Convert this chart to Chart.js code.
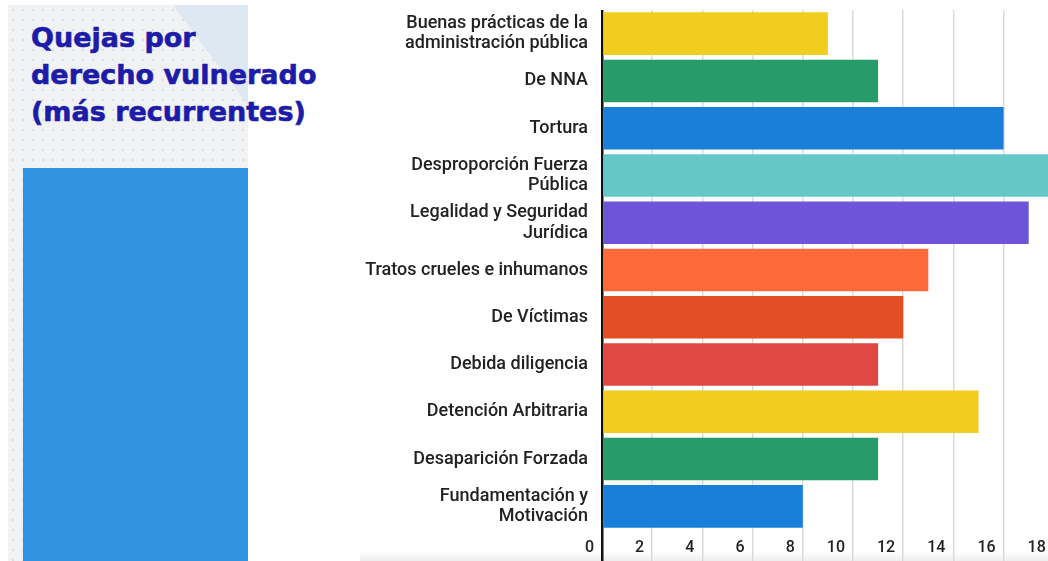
<!DOCTYPE html>
<html>
<head>
<meta charset="utf-8">
<script src="https://cdn.jsdelivr.net/npm/chart.js@4"></script>
<style>
    html, body { margin: 0; padding: 0; background: #fff; overflow: hidden; width: 1048px; height: 561px; }
    .panel {
        position: absolute; left: 8px; top: 5px; width: 240px; height: 560px;
        background-color: #f1f2f4;
        background-image: radial-gradient(#dcdee3 0.8px, transparent 1.2px);
        background-size: 10px 10px;
    }
    .corner {
        position: absolute; left: 173px; top: 5px; width: 75px; height: 100px;
        background: #dde8f3;
        clip-path: polygon(0 0, 100% 0, 100% 100%);
    }
    .blue { position: absolute; left: 23px; top: 168px; width: 225px; height: 400px; background: #2f93e2; }
    .shade {
        position: absolute; left: 360px; top: 552px; width: 700px; height: 9px;
        background: linear-gradient(to bottom, rgba(235,235,235,0), rgba(235,235,235,0.9));
    }
    .title {
        position: absolute; left: 31px; top: 19px; margin: 0;
        font-family: "DejaVu Sans", sans-serif; font-weight: 700; font-size: 27px; line-height: 37px;
        color: #1c1ca8; -webkit-text-stroke: 0.6px #1c1ca8;
    }
    .wrap { position: absolute; left: 0; top: 0; width: 1110px; height: 561px; }
</style>
</head>
<body>
<div class="panel"></div>
<div class="corner"></div>
<div class="blue"></div>
<div class="shade"></div>
<h1 class="title">Quejas por<br>derecho vulnerado<br>(más recurrentes)</h1>
<div class="wrap"><canvas id="quejasChart"></canvas></div>
<script>
const categories = [
    ['Buenas prácticas de la', 'administración pública'],
    'De NNA',
    'Tortura',
    ['Desproporción Fuerza', 'Pública'],
    ['Legalidad y Seguridad', 'Jurídica'],
    'Tratos crueles e inhumanos',
    'De Víctimas',
    'Debida diligencia',
    'Detención Arbitraria',
    'Desaparición Forzada',
    ['Fundamentación y', 'Motivación']
];
const quejas = [9, 11, 16, 18, 17, 13, 12, 11, 15, 11, 8];
const barColors = ['#f0cd1e', '#289b6b', '#1a7fd8', '#66c7c8', '#6e55d8', '#ff6a3b', '#e44e24', '#df4844', '#f0cd1e', '#289b6b', '#1a7fd8'];
const xTickStep = 2;

document.addEventListener("DOMContentLoaded", function () {
    const ctx = document.getElementById('quejasChart');

    new Chart(ctx, {
        type: 'bar',
        data: {
            labels: categories,
            datasets: [{
                label: 'Quejas',
                data: quejas,
                backgroundColor: barColors,
                borderWidth: 0,
                barPercentage: 0.9,
                categoryPercentage: 1
            }]
        },
        options: {
            indexAxis: 'y',
            responsive: true,
            maintainAspectRatio: false,
            animation: false,
            layout: { padding: { top: 10, right: 6, bottom: 31, left: 0 } },
            plugins: { legend: { display: false }, tooltip: { enabled: false } },
            scales: {
                x: {
                    min: 0,
                    max: 20,
                    border: { display: false },
                    grid: {
                        color: (c) => c.tick && c.tick.value === 0 ? '#111' : '#dadada',
                        lineWidth: (c) => c.tick && c.tick.value === 0 ? 2.5 : 1.5,
                        tickLength: 32
                    },
                    ticks: {
                        stepSize: xTickStep,
                        mirror: true,
                        align: 'end',
                        labelOffset: -8,
                        padding: -28,
                        color: '#222',
                        font: { family: 'Roboto', size: 16, weight: '500' }
                    }
                },
                y: {
                    afterFit: (scale) => {
                        scale.width = 602;
                        scale.paddingTop = 0;
                        scale.paddingBottom = 0;
                    },
                    border: { display: false },
                    grid: { display: false, drawTicks: false },
                    ticks: {
                        padding: 14,
                        color: '#222',
                        font: { family: 'Roboto', size: 18, weight: '500', lineHeight: 1.15 }
                    }
                }
            }
        }
    });
});
</script>
</body>
</html>
